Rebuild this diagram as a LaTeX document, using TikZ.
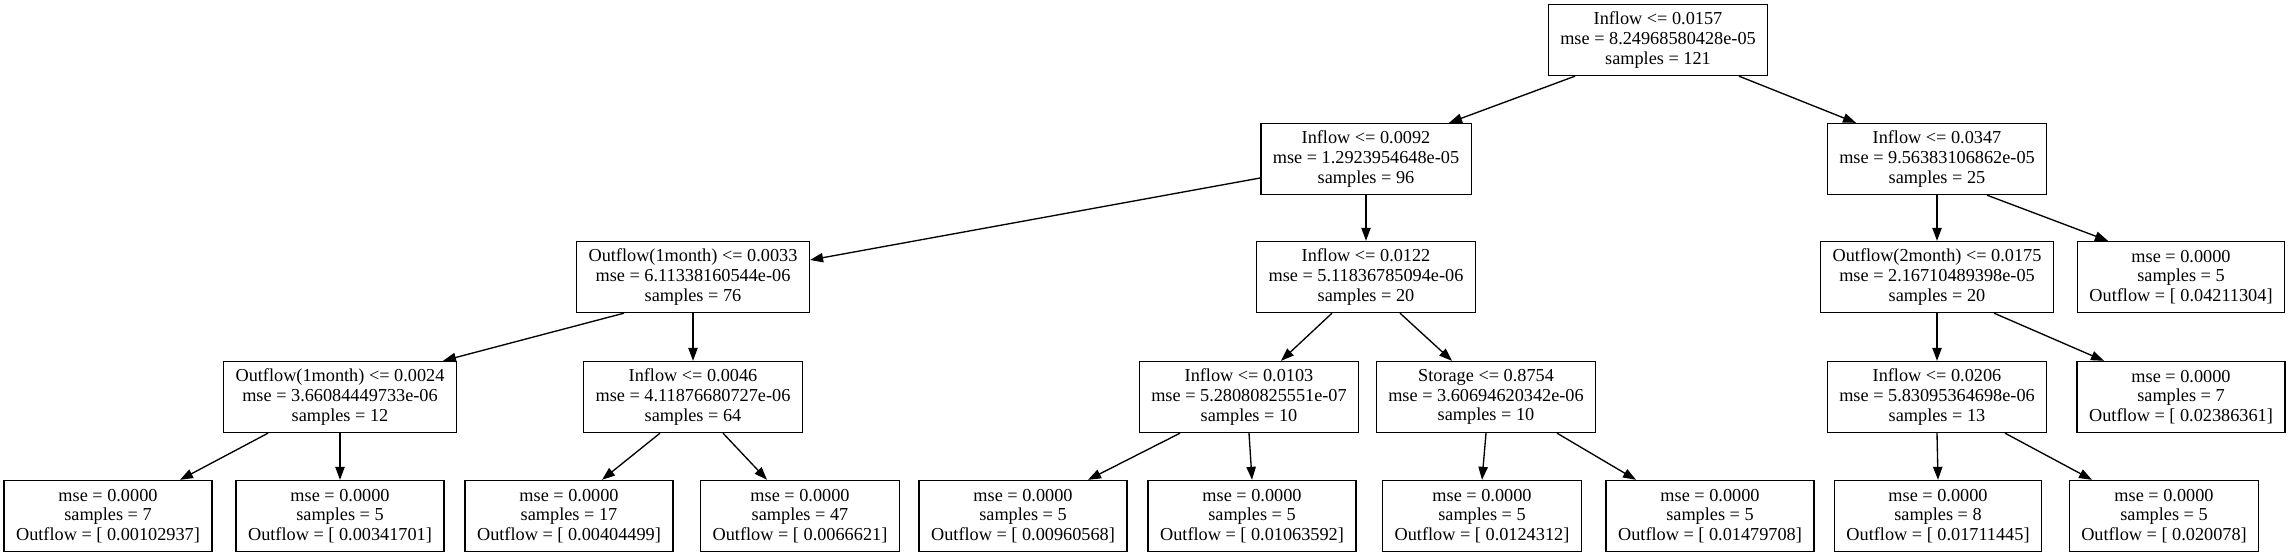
\documentclass[tikz,border=0pt]{standalone}
\usepackage{fontspec}
\setmainfont{Liberation Serif}
\usetikzlibrary{positioning, arrows.meta, calc}

\begin{document}
\begin{tikzpicture}[x=0.75pt, y=-0.75pt,
  testbox/.style={draw, rectangle, line width=1pt, align=center, inner xsep=9pt, inner ysep=2pt,
    minimum height=53.25pt, font=\fontsize{13.7}{14.8}\selectfont},
  leafbox/.style={testbox},
  link/.style={-{Triangle[length=9.75pt, width=7pt]}, line width=1pt}]
  \useasboundingbox (0,0) rectangle (2291,556);
  \node[testbox] (T0) at (1658,40) {Inflow <= 0.0157\\mse = 8.24968580428e-05\\samples = 121};
  \node[testbox] (T1) at (1366,159) {Inflow <= 0.0092\\mse = 1.2923954648e-05\\samples = 96};
  \node[testbox] (T2) at (1937,159) {Inflow <= 0.0347\\mse = 9.56383106862e-05\\samples = 25};
  \node[testbox] (T3) at (693,277) {Outflow(1month) <= 0.0033\\mse = 6.11338160544e-06\\samples = 76};
  \node[testbox] (T4) at (1366,277) {Inflow <= 0.0122\\mse = 5.11836785094e-06\\samples = 20};
  \node[testbox] (T5) at (1937,277) {Outflow(2month) <= 0.0175\\mse = 2.16710489398e-05\\samples = 20};
  \node[leafbox] (L0) at (2181,277) {mse = 0.0000\\samples = 5\\Outflow = [ 0.04211304]};
  \node[testbox] (T6) at (340,397) {Outflow(1month) <= 0.0024\\mse = 3.66084449733e-06\\samples = 12};
  \node[testbox] (T7) at (693,397) {Inflow <= 0.0046\\mse = 4.11876680727e-06\\samples = 64};
  \node[testbox] (T8) at (1249,397) {Inflow <= 0.0103\\mse = 5.28080825551e-07\\samples = 10};
  \node[testbox] (T9) at (1486,397) {Storage <= 0.8754\\mse = 3.60694620342e-06\\samples = 10};
  \node[testbox] (T10) at (1937,397) {Inflow <= 0.0206\\mse = 5.83095364698e-06\\samples = 13};
  \node[leafbox] (L1) at (2181,397) {mse = 0.0000\\samples = 7\\Outflow = [ 0.02386361]};
  \node[leafbox] (L2) at (108,516) {mse = 0.0000\\samples = 7\\Outflow = [ 0.00102937]};
  \node[leafbox] (L3) at (340,516) {mse = 0.0000\\samples = 5\\Outflow = [ 0.00341701]};
  \node[leafbox] (L4) at (569,516) {mse = 0.0000\\samples = 17\\Outflow = [ 0.00404499]};
  \node[leafbox] (L5) at (800,516) {mse = 0.0000\\samples = 47\\Outflow = [ 0.0066621]};
  \node[leafbox] (L6) at (1023,516) {mse = 0.0000\\samples = 5\\Outflow = [ 0.00960568]};
  \node[leafbox] (L7) at (1252,516) {mse = 0.0000\\samples = 5\\Outflow = [ 0.01063592]};
  \node[leafbox] (L8) at (1482,516) {mse = 0.0000\\samples = 5\\Outflow = [ 0.0124312]};
  \node[leafbox] (L9) at (1710,516) {mse = 0.0000\\samples = 5\\Outflow = [ 0.01479708]};
  \node[leafbox] (L10) at (1938,516) {mse = 0.0000\\samples = 8\\Outflow = [ 0.01711445]};
  \node[leafbox] (L11) at (2164,516) {mse = 0.0000\\samples = 5\\Outflow = [ 0.020078]};
  \draw[link] ($(T0.south)+(-83,0)$) -- ($(T1.north)+(83,0)$);
  \draw[link] ($(T0.south)+(81,0)$) -- ($(T2.north)+(-81,0)$);
  \draw[link] ($(T1.west)+(0,19)$) -- ($(T3.east)+(0,-17)$);
  \draw[link] (T1.south) -- (T4.north);
  \draw[link] (T2.south) -- (T5.north);
  \draw[link] ($(T2.south)+(50,0)$) -- ($(L0.north)+(-73,0)$);
  \draw[link] ($(T3.south)+(-69,0)$) -- ($(T6.north)+(103,0)$);
  \draw[link] (T3.south) -- (T7.north);
  \draw[link] ($(T4.south)+(-34,0)$) -- ($(T8.north)+(32,0)$);
  \draw[link] ($(T4.south)+(34,0)$) -- ($(T9.north)+(-34,0)$);
  \draw[link] (T5.south) -- (T10.north);
  \draw[link] ($(T5.south)+(57,0)$) -- ($(L1.north)+(-77,0)$);
  \draw[link] ($(T6.south)+(-72,0)$) -- ($(L2.north)+(72,0)$);
  \draw[link] (T6.south) -- (L3.north);
  \draw[link] ($(T7.south)+(-33,0)$) -- ($(L4.north)+(33,0)$);
  \draw[link] ($(T7.south)+(30,0)$) -- ($(L5.north)+(-33,0)$);
  \draw[link] ($(T8.south)+(-69,0)$) -- ($(L6.north)+(65,0)$);
  \draw[link] (T8.south) -- (L7.north);
  \draw[link] (T9.south) -- (L8.north);
  \draw[link] ($(T9.south)+(71,0)$) -- ($(L9.north)+(-74,0)$);
  \draw[link] (T10.south) -- (L10.north);
  \draw[link] ($(T10.south)+(68,0)$) -- ($(L11.north)+(-72,0)$);
\end{tikzpicture}
\end{document}
